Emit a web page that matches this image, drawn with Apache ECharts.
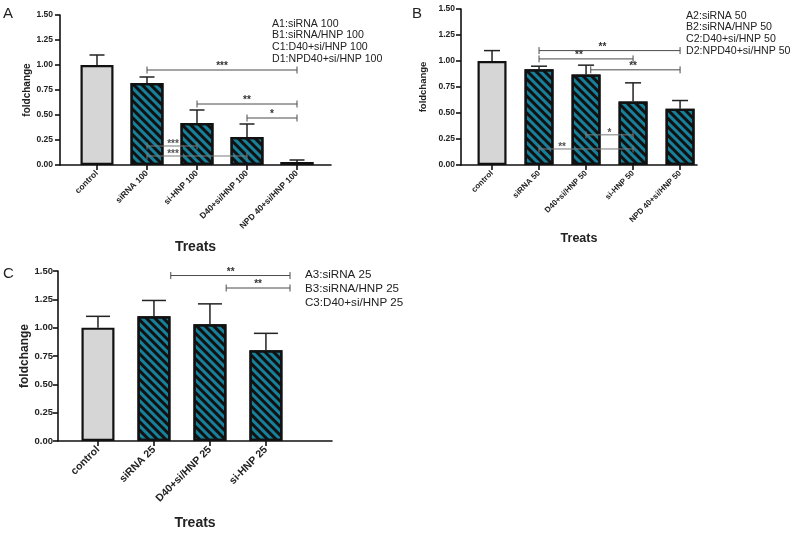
<!DOCTYPE html>
<html><head><meta charset="utf-8">
<script src="https://cdn.jsdelivr.net/npm/echarts@6/dist/echarts.min.js"></script>
<style>html,body{margin:0;padding:0;background:#fff}#c{width:800px;height:533px}</style>
</head><body><div id="c"></div>
<script>
// ---- data ----
const catsA = ['control','siRNA 100','si-HNP 100','D40+si/HNP 100','NPD 40+si/HNP 100'];
const meanA = [1.00, 0.82, 0.42, 0.28, 0.03];
const sdA   = [0.10, 0.06, 0.13, 0.13, 0.02];
// [from, to, y, stars, labelX]
const sigA  = [[1,4,0.95,'***',2.5],[2,4,0.61,'**',3],[3,4,0.47,'*',3.5],[1,2,0.19,'***',1.52],[1,3,0.09,'***',1.52]];

const catsB = ['control','siRNA 50','D40+si/HNP 50','si-HNP 50','NPD 40+si/HNP 50'];
const meanB = [1.00, 0.92, 0.87, 0.61, 0.54];
const sdB   = [0.10, 0.03, 0.09, 0.18, 0.08];
const sigB  = [[1,4,1.10,'**',2.35],[1,3,1.02,'**',1.85],[2.1,4,0.915,'**',3.0],[1,3,0.154,'**',1.49],[2,3,0.29,'*',2.5]];

const catsC = ['control','siRNA 25','D40+si/HNP 25','si-HNP 25'];
const meanC = [1.00, 1.10, 1.03, 0.80];
const sdC   = [0.10, 0.14, 0.18, 0.15];
const sigC  = [[1.3,3.43,1.46,'**',2.37],[2.29,3.43,1.35,'**',2.86]];

const legendA = ['A1:siRNA 100','B1:siRNA/HNP 100','C1:D40+si/HNP 100','D1:NPD40+si/HNP 100'];
const legendB = ['A2:siRNA 50','B2:siRNA/HNP 50','C2:D40+si/HNP 50','D2:NPD40+si/HNP 50'];
const legendC = ['A3:siRNA 25','B3:siRNA/HNP 25','C3:D40+si/HNP 25'];

// ---- layout ----
const panels = [
  {cats:catsA, mean:meanA, sd:sdA, sig:sigA, grid:{left:60,top:15,width:271,height:150}, xmin:-0.74, xmax:4.68,
   barW:33, cap:7.5, yFont:8.5, xFont:8.5, nameFont:10, treatFont:14, yGap:28, xGap:75, yMargin:7, innerSig:[3,4]},
  {cats:catsB, mean:meanB, sd:sdB, sig:sigB, grid:{left:461,top:9,width:236,height:156}, xmin:-0.66, xmax:4.36,
   barW:29, cap:8, yFont:8.5, xFont:8, nameFont:9.5, treatFont:12.5, yGap:33, xGap:67, yMargin:6, innerSig:[3,4]},
  {cats:catsC, mean:meanC, sd:sdC, sig:sigC, grid:{left:58,top:271,width:274,height:170}, xmin:-0.714, xmax:4.18,
   barW:33, cap:12, yFont:9.5, xFont:10.5, nameFont:12, treatFont:14, yGap:26, xGap:75, yMargin:5, innerSig:[]}
];

const TEAL = '#17809a';
const GRAY = '#d6d6d6';
const FONT = '"Liberation Sans", Arial, sans-serif';

const grids = [], xAxes = [], yAxes = [], series = [];
panels.forEach((p, i) => {
  grids.push(Object.assign({containLabel:false}, p.grid));
  const idx = p.cats.map((_, k) => k);
  xAxes.push({
    type:'value', gridIndex:i, min:p.xmin, max:p.xmax,
    name:'Treats', nameLocation:'middle', nameGap:p.xGap,
    nameTextStyle:{fontFamily:FONT, fontWeight:'bold', fontSize:p.treatFont, color:'#222'},
    splitLine:{show:false},
    axisLine:{onZero:false, lineStyle:{color:'#111', width:1.6}},
    axisTick:{customValues:idx, length:5, lineStyle:{color:'#111', width:1.6}},
    axisLabel:{customValues:idx, rotate:45, fontFamily:FONT, fontWeight:'bold', fontSize:p.xFont, color:'#222', margin:7,
      formatter:(v) => p.cats[Math.round(v)]}
  });
  yAxes.push({
    type:'value', gridIndex:i, min:0, max:1.5, interval:0.25,
    name:'foldchange', nameLocation:'middle', nameRotate:90, nameGap:p.yGap,
    nameTextStyle:{fontFamily:FONT, fontWeight:'bold', fontSize:p.nameFont, color:'#222'},
    splitLine:{show:false},
    axisLine:{show:true, onZero:false, lineStyle:{color:'#111', width:1.6}},
    axisTick:{show:true, length:5, lineStyle:{color:'#111', width:1.6}},
    axisLabel:{fontFamily:FONT, fontWeight:'bold', fontSize:p.yFont, color:'#222', margin:p.yMargin,
      formatter:(v) => v.toFixed(2)}
  });
  series.push({
    type:'bar', xAxisIndex:i, yAxisIndex:i, barWidth:p.barW,
    data:p.mean.map((m, k) => ({
      value:[k, m],
      itemStyle: k === 0 ? {color:GRAY, borderColor:'#111', borderWidth:2.2} :
        {color:TEAL, borderColor:'#111', borderWidth:2.2,
         decal:{symbol:'rect', symbolSize:1, color:'#111', dashArrayX:[1,0], dashArrayY:[2.4,2.6], rotation:Math.PI/4}}
    })),
    z:2
  });
  // error bars
  series.push({
    type:'custom', xAxisIndex:i, yAxisIndex:i, z:3,
    data:p.mean.map((m, k) => [k, m, p.sd[k]]),
    renderItem:(params, api) => {
      const x = api.value(0), m = api.value(1), s = api.value(2);
      const a = api.coord([x, m]), b = api.coord([x, m + s]);
      const st = {stroke:'#222', lineWidth:1.5};
      return {type:'group', children:[
        {type:'line', shape:{x1:a[0], y1:a[1], x2:b[0], y2:b[1]}, style:st},
        {type:'line', shape:{x1:b[0]-p.cap, y1:b[1], x2:b[0]+p.cap, y2:b[1]}, style:st}
      ]};
    }
  });
  // significance brackets
  series.push({
    type:'custom', xAxisIndex:i, yAxisIndex:i, z:4,
    data:p.sig.map(s => [s[0], s[1], s[2], s[4]]),
    encode:{x:[0,1,3], y:2},
    renderItem:(params, api) => {
      const s = p.sig[params.dataIndex];
      const inner = p.innerSig.indexOf(params.dataIndex) >= 0;
      const col = inner ? '#7a7a7a' : '#4a4a4a';
      const a = api.coord([api.value(0), api.value(2)]);
      const b = api.coord([api.value(1), api.value(2)]);
      const t = api.coord([api.value(3), api.value(2)]);
      const st = {stroke:col, lineWidth:1};
      return {type:'group', children:[
        {type:'line', shape:{x1:a[0], y1:a[1], x2:b[0], y2:b[1]}, style:st},
        {type:'line', shape:{x1:a[0], y1:a[1]-3.5, x2:a[0], y2:a[1]+3.5}, style:st},
        {type:'line', shape:{x1:b[0], y1:b[1]-3.5, x2:b[0], y2:b[1]+3.5}, style:st},
        {type:'text', x:t[0], y:t[1] + (inner ? 3.5 : 1.5), style:{text:s[3], fill:inner ? '#555' : '#333', font:'bold 10px ' + FONT,
          textAlign:'center', textVerticalAlign:'bottom'}}
      ]};
    }
  });
});

const tStyle = (fs, lh) => ({fontFamily:FONT, fontWeight:'normal', fontSize:fs, lineHeight:lh, color:'#222'});
const titles = [
  {text:'A', left:3, top:6, padding:0, textStyle:tStyle(15, 15)},
  {text:'B', left:412, top:6, padding:0, textStyle:tStyle(15, 15)},
  {text:'C', left:3, top:266, padding:0, textStyle:tStyle(15, 15)},
  {text:legendA.join('\n'), left:272, top:18, padding:0, textStyle:tStyle(10.6, 11.6)},
  {text:legendB.join('\n'), left:686, top:10, padding:0, textStyle:tStyle(10.6, 11.7)},
  {text:legendC.join('\n'), left:305, top:268, padding:0, textStyle:tStyle(11.6, 14)}
];

const chart = echarts.init(document.getElementById('c'), null, {renderer:'canvas'});
chart.setOption({
  backgroundColor:'#fff', animation:false,
  title:titles, grid:grids, xAxis:xAxes, yAxis:yAxes, series:series
});
</script></body></html>
